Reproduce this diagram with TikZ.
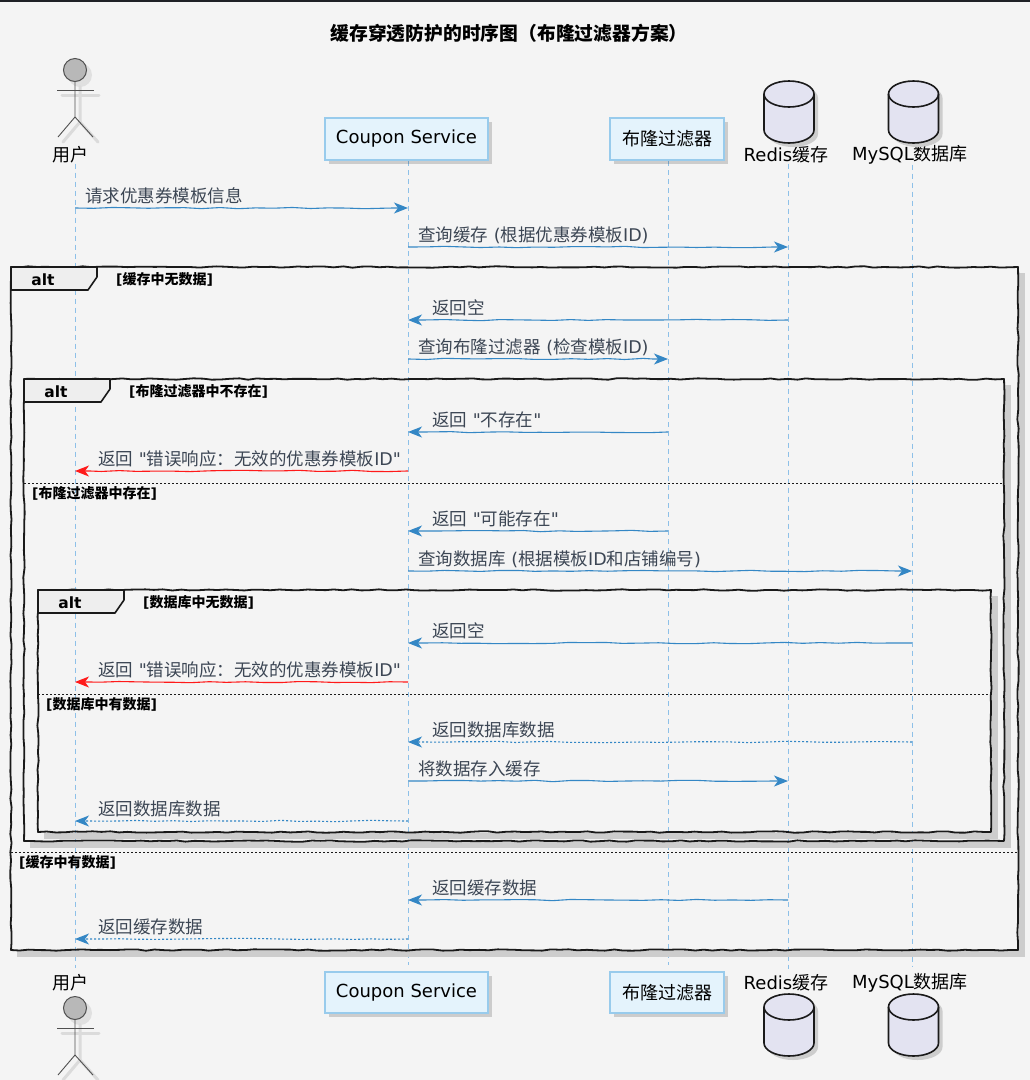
\documentclass[tikz,border=0pt]{standalone}
\usepackage{fontspec}
\setmainfont{DejaVu Sans}
\newfontfamily\latfont{DejaVu Sans}
\newfontfamily\cjkfont{Noto Sans CJK SC}
\XeTeXinterchartokenstate=1
\newXeTeXintercharclass\CJKcls
\newcount\cjkcnt
\newcommand\setcjkrange[2]{\cjkcnt=#1\relax
  \loop\XeTeXcharclass\cjkcnt=\CJKcls\relax
  \ifnum\cjkcnt<#2\relax\advance\cjkcnt by 1\relax\repeat}
\setcjkrange{"3000}{"303F}
\setcjkrange{"4E00}{"9FFF}
\setcjkrange{"FF00}{"FFEF}
\XeTeXinterchartoks 0 \CJKcls = {\cjkfont}
\XeTeXinterchartoks 4095 \CJKcls = {\cjkfont}
\XeTeXinterchartoks \CJKcls 0 = {\latfont}
\XeTeXinterchartoks \CJKcls 4095 = {\latfont}
\usetikzlibrary{arrows.meta,decorations.pathmorphing,shadows}
\definecolor{bg}{HTML}{F4F4F4}
\definecolor{topband}{HTML}{1F2126}
\definecolor{arrowc}{HTML}{3487C5}
\definecolor{errc}{HTML}{FF1A1A}
\definecolor{msgtext}{HTML}{3C4654}
\definecolor{lifec}{HTML}{8DC0E8}
\definecolor{boxfill}{HTML}{E4F3FC}
\definecolor{boxdraw}{HTML}{98CBEC}
\definecolor{cylfill}{HTML}{E3E3F1}
\definecolor{framec}{HTML}{1A1A1A}
\definecolor{tabfill}{HTML}{EEEEEE}
\definecolor{shadowc}{HTML}{CDCDCD}
\definecolor{actorfill}{HTML}{B8B8B8}
\definecolor{actordraw}{HTML}{505050}
\tikzset{
  life/.style={draw=lifec, line width=0.9pt, dash pattern=on 5pt off 4pt},
  tipstyle/.style={-{Stealth[length=14pt,width=11pt,inset=4pt]}},
  msgbase/.style={line width=1.1pt, tipstyle, decorate,
    decoration={random steps, segment length=18pt, amplitude=0.7pt, pre length=1pt, post length=15pt}},
  msg/.style={msgbase, draw=arrowc},
  err/.style={msgbase, draw=errc},
  ret/.style={msgbase, draw=arrowc, dash pattern=on 2pt off 2pt},
  mlabel/.style={anchor=base west, inner sep=0pt, text=msgtext, font=\latfont\fontsize{17.5}{20}\selectfont},
  plabel/.style={inner sep=0pt, text=black, font=\latfont\fontsize{18}{21}\selectfont},
  pbox/.style={draw=boxdraw, fill=boxfill, line width=1.2pt, inner sep=0pt, text=black,
    font=\latfont\fontsize{18}{21}\selectfont,
    drop shadow={shadow xshift=4pt, shadow yshift=-4pt, fill=black, opacity=0.16}},
  frame/.style={draw=framec, line width=1.8pt, line join=round, decorate,
    decoration={random steps, segment length=9pt, amplitude=0.7pt}},
  tab/.style={fill=tabfill, draw=framec, line width=1.6pt, line join=round},
  altlbl/.style={inner sep=0pt, font=\latfont\fontsize{15.5}{18}\selectfont\bfseries},
  condlbl/.style={anchor=west, inner sep=0pt, font=\latfont\fontsize{14}{16}\selectfont\bfseries},
  divider/.style={draw=framec, line width=1pt, dash pattern=on 2pt off 2pt},
  cylstyle/.style={fill=cylfill, draw=framec, line width=1.6pt, line join=round},
}
\newcommand\altframe[6]{%
  \fill[shadowc] (#3+1,#2+6) rectangle (#3+7,#4+7);
  \fill[shadowc] (#1+6,#4+1) rectangle (#3+7,#4+7);
  \draw[frame] (#1,#2) rectangle (#3,#4);
  \filldraw[tab] (#1,#2) -- (#1+86,#2) -- (#1+86,#2+10) -- (#1+77,#2+23) -- (#1,#2+23) -- cycle;
  \node[altlbl] (#6alt) at (#1+32,#2+12.5) {alt};
  \node[condlbl] (#6cond) at (#1+105,#2+12.5) {[#5]};
}
\newcommand\altdivider[5]{%
  \draw[divider] (#1,#3) -- (#2,#3);
  \node[condlbl] (#5) at (#1+8,#3+10) {[#4]};
}
\newcommand\seqmsg[7]{%
  \draw[#2] (#3 |- 0,#5) -- (#4 |- 0,#5);
  \node[mlabel] (msg#1) at (#6,#5-6) {#7};
}
\newcommand\cylfig[3]{% name, cx, ytop
  \fill[shadowc] (#2-21,#3+17) -- (#2-21,#3+53) arc[start angle=180,end angle=0,x radius=25,y radius=13]
     -- (#2+29,#3+17) arc[start angle=0,end angle=-180,x radius=25,y radius=13] -- cycle;
  \path[cylstyle] (#2-25,#3+13) -- (#2-25,#3+49) arc[start angle=180,end angle=0,x radius=25,y radius=13]
     -- (#2+25,#3+13) arc[start angle=0,end angle=-180,x radius=25,y radius=13] -- cycle;
  \draw[framec, line width=1.6pt] (#2-25,#3+13) arc[start angle=180,end angle=0,x radius=25,y radius=13];
  \coordinate (#1) at (#2,#3+31);
}
\newcommand\actorfig[2]{% name, head center y
  \begin{scope}[shift={(5,5)}, draw=black!14, line width=3pt, line cap=round]
    \fill[black!12] (75,#2) circle[radius=12];
    \draw (57,#2+20) -- (94,#2+20);
    \draw (75,#2+11.5) -- (75,#2+47) -- (58,#2+67);
    \draw (75,#2+47) -- (93,#2+67);
  \end{scope}
  \filldraw[fill=actorfill, draw=actordraw, line width=1pt] (75,#2) circle[radius=11.5];
  \draw[actordraw, line width=0.9pt] (57,#2+20) -- (94,#2+20);
  \draw[actordraw, line width=0.9pt] (75,#2+11.5) -- (75,#2+47) -- (58,#2+67);
  \draw[actordraw, line width=0.9pt] (75,#2+47) -- (93,#2+67);
  \coordinate (#1) at (75,#2);
}
\begin{document}
\begin{tikzpicture}[x=1pt,y=-1pt]
\pgfmathsetseed{11}
\useasboundingbox (0,0) rectangle (1030,1080);
\fill[bg] (0,0) rectangle (1030,1080);
\fill[topband] (0,0) rectangle (1030,2);

\node[font=\latfont\fontsize{18.8}{22}\selectfont\bfseries] (title) at (509,33) {缓存穿透防护的时序图（布隆过滤器方案）};

% lifeline x positions
\coordinate (U) at (75,0);
\coordinate (CS) at (408,0);
\coordinate (BF) at (668,0);
\coordinate (RD) at (788,0);
\coordinate (DB) at (912,0);

% participant labels (positions)
\node[plabel] (uTop) at (70,155) {用户};
\node[plabel] (uBot) at (70,983) {用户};
\node[plabel] (rdTop) at (786,155) {Redis缓存};
\node[plabel] (rdBot) at (786,983) {Redis缓存};
\node[plabel] (dbTop) at (910,155) {MySQL数据库};
\node[plabel] (dbBot) at (910,983) {MySQL数据库};
\coordinate (csTopS) at (408,161);
\coordinate (csBotN) at (408,971);

% lifelines
\draw[life] (U |- uTop.south) -- ([yshift=6pt]U |- uBot.north);
\draw[life] (csTopS) -- ([yshift=6pt]csBotN);
\draw[life] (BF |- csTopS) -- ([yshift=6pt]BF |- csBotN);
\draw[life] (RD |- rdTop.south) -- ([yshift=6pt]RD |- rdBot.north);
\draw[life] (DB |- dbTop.south) -- ([yshift=6pt]DB |- dbBot.north);

% frames
\altframe{11}{267}{1018}{950}{缓存中无数据}{outer}
\altframe{24}{379}{1004}{841}{布隆过滤器中不存在}{bloom}
\altframe{38}{590}{991}{832}{数据库中无数据}{db}
\altdivider{24}{1004}{483}{布隆过滤器中存在}{bloomelse}
\altdivider{38}{991}{694}{数据库中有数据}{dbelse}
\altdivider{11}{1018}{852}{缓存中有数据}{outerelse}

% participants
\actorfig{userTop}{70}
\actorfig{userBot}{1008}
\node[pbox, minimum width=163pt, minimum height=42pt] (csTop) at (406.5,139) {Coupon Service};
\node[pbox, minimum width=163pt, minimum height=41pt] (csBot) at (406.5,992.5) {Coupon Service};
\node[pbox, minimum width=114pt, minimum height=42pt] (bfTop) at (667,139) {布隆过滤器};
\node[pbox, minimum width=114pt, minimum height=41pt] (bfBot) at (667,992.5) {布隆过滤器};
\cylfig{rdCylTop}{789}{81}
\cylfig{dbCylTop}{913.5}{81}
\cylfig{rdCylBot}{789}{994}
\cylfig{dbCylBot}{913.5}{994}

% messages
\seqmsg{1}{msg}{U}{CS}{208}{85}{请求优惠券模板信息}
\seqmsg{2}{msg}{CS}{RD}{247}{418}{查询缓存 (根据优惠券模板ID)}
\seqmsg{3}{msg}{RD}{CS}{320}{432}{返回空}
\seqmsg{4}{msg}{CS}{BF}{359}{418}{查询布隆过滤器 (检查模板ID)}
\seqmsg{5}{msg}{BF}{CS}{432}{432}{返回 "不存在"}
\seqmsg{6}{err}{CS}{U}{471}{98}{返回 "错误响应：无效的优惠券模板ID"}
\seqmsg{7}{msg}{BF}{CS}{531}{432}{返回 "可能存在"}
\seqmsg{8}{msg}{CS}{DB}{571}{418}{查询数据库 (根据模板ID和店铺编号)}
\seqmsg{9}{msg}{DB}{CS}{643}{432}{返回空}
\seqmsg{10}{err}{CS}{U}{682}{98}{返回 "错误响应：无效的优惠券模板ID"}
\seqmsg{11}{ret}{DB}{CS}{742}{432}{返回数据库数据}
\seqmsg{12}{msg}{CS}{RD}{781}{418}{将数据存入缓存}
\seqmsg{13}{ret}{CS}{U}{821}{98}{返回数据库数据}
\seqmsg{14}{msg}{RD}{CS}{900}{432}{返回缓存数据}
\seqmsg{15}{ret}{CS}{U}{939}{98}{返回缓存数据}
\end{tikzpicture}
\end{document}
